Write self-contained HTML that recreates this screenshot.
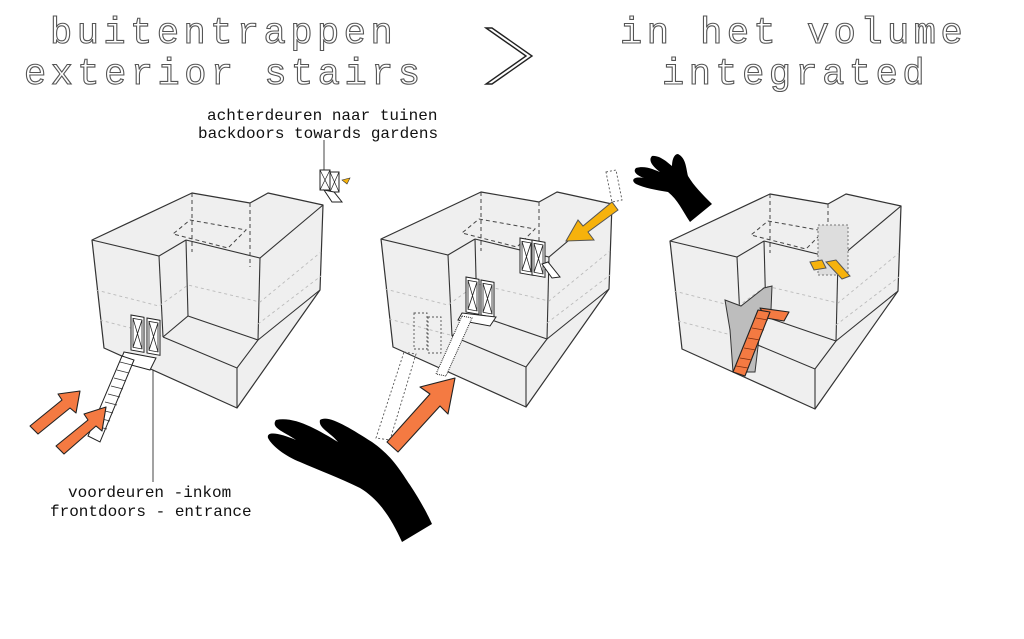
<!DOCTYPE html>
<html><head><meta charset="utf-8"><style>
html,body{margin:0;padding:0;background:#fff;}
svg{display:block;}
.t{font-family:"Liberation Mono",monospace;font-size:37px;fill:#fff;stroke:#555;stroke-width:1.1;letter-spacing:4.5px;}
.l{font-family:"Liberation Mono","DejaVu Sans Mono",monospace;font-size:16px;fill:#111;}
.bx{fill:#efefef;stroke:#333;stroke-width:1.2;stroke-linejoin:round}
.ln{fill:none;stroke:#333;stroke-width:1.1}
.dl{fill:none;stroke:#444;stroke-width:1;stroke-dasharray:4 3}
.gl{fill:none;stroke:#bbb;stroke-width:0.9;stroke-dasharray:3 3}
.or{fill:#f47a42;stroke:#222;stroke-width:1.1;stroke-linejoin:round}
.ye{fill:#f6b20c;stroke:#555;stroke-width:1}
</style></head><body>
<svg width="1024" height="639" viewBox="0 0 1024 639" xmlns="http://www.w3.org/2000/svg">
<defs>
<g id="box">
  <polygon class="bx" points="0,0 100,-47 158,-37 176,-47 231,-35 228,50 145,168 12,108"/>
  <polyline class="ln" points="0,0 67,16 94,0"/>
  <line class="ln" x1="67" y1="16" x2="71" y2="97"/>
  <line class="ln" x1="94" y1="0" x2="96" y2="76"/>
  <polyline class="ln" points="94,0 168,18 231,-35"/>
  <line class="ln" x1="168" y1="18" x2="166" y2="100"/>
  <polyline class="ln" points="71,97 96,76 166,100 145,128 71,97"/>
  <line class="ln" x1="145" y1="128" x2="145" y2="168"/>
  <line class="ln" x1="166" y1="100" x2="228" y2="50"/>
  <line class="dl" x1="100" y1="-47" x2="100" y2="12"/>
  <line class="dl" x1="158" y1="-37" x2="158" y2="27"/>
  <polygon class="dl" points="98,-20 154,-10 136,8 81,-6"/>
  <polyline class="gl" points="4,50 67,66 96,45 168,62 229,12"/>
  <polyline class="gl" points="8,80 69,96"/>
  <polyline class="gl" points="166,84 229,36"/>
</g>
<g id="door">
  <rect x="0" y="0" width="13" height="35" fill="#fff" stroke="#222" stroke-width="1"/>
  <rect x="2" y="3" width="9" height="29" fill="none" stroke="#222" stroke-width="0.8"/>
  <path d="M2,3 L11,32 M11,3 L2,32" stroke="#222" stroke-width="0.8"/>
</g>
</defs>

<text class="t" x="50" y="43">buitentrappen</text>
<text class="t" x="24" y="84">exterior stairs</text>
<text class="t" x="620" y="43">in het volume</text>
<text class="t" x="662" y="84">integrated</text>
<polygon points="486,28 526,56 486,84 492,84 532,56 492,28" fill="#fff" stroke="#222" stroke-width="1.4"/>

<text class="l" x="207" y="120">achterdeuren naar tuinen</text>
<text class="l" x="198" y="138">backdoors towards gardens</text>
<line x1="324" y1="140" x2="324" y2="172" stroke="#444" stroke-width="1"/>
<text class="l" x="68" y="497">voordeuren -inkom</text>
<text class="l" x="50" y="516">frontdoors - entrance</text>
<line x1="153" y1="370" x2="153" y2="482" stroke="#444" stroke-width="1"/>

<g transform="translate(92,240)"><use href="#box"/></g>
<use href="#door" transform="translate(131,315) skewY(10)"/>
<use href="#door" transform="translate(147,318) skewY(10)"/>
<polygon points="124,352 156,358 150,370 120,362" fill="#fff" stroke="#222"/>
<polygon points="122,356 134,360 100,442 88,436" fill="#fff" stroke="#222"/>
<path d="M120,362 L132,365 M117,370 L129,373 M114,378 L126,381 M111,386 L123,389 M108,394 L120,397 M105,402 L117,405 M101,410 L113,413 M98,418 L110,421 M95,426 L107,429" stroke="#333" stroke-width="0.8"/>
<g transform="translate(320,170)">
  <rect x="0" y="0" width="10" height="20" fill="#fff" stroke="#222"/><rect x="10" y="2" width="9" height="20" fill="#fff" stroke="#222"/>
  <path d="M0,0 L10,20 M10,0 L0,20 M10,2 L19,22 M19,2 L10,22" stroke="#222" stroke-width="0.7"/>
  <polygon points="4,20 14,22 22,32 12,32" fill="#fff" stroke="#222"/>
  <polygon points="22,10 30,8 27,14" fill="#f6b20c" stroke="#333" stroke-width="0.6"/>
</g>
<polygon class="or" points="30,426 62,400 58,394 80,391 76,413 70,408 38,434"/>
<polygon class="or" points="56,446 88,420 84,414 106,407 102,431 96,426 64,454"/>

<g transform="translate(381,239)"><use href="#box"/></g>
<use href="#door" transform="translate(466,277) skewY(10)"/>
<use href="#door" transform="translate(481,280) skewY(10)"/>
<polygon points="462,313 496,317 490,326 458,320" fill="#fff" stroke="#222"/>
<polygon points="462,316 472,318 446,376 436,374" fill="#fff" stroke="#222" stroke-dasharray="1 1"/>
<use href="#door" transform="translate(520,238) skewY(10)"/>
<use href="#door" transform="translate(532,240) skewY(10)"/>
<polygon points="542,264 548,262 560,277 552,278" fill="#fff" stroke="#222"/>
<g stroke="#555" stroke-dasharray="2 2" fill="none" stroke-width="0.9">
  <rect x="414" y="313" width="13" height="36"/><rect x="428" y="317" width="13" height="36"/>
  <polygon points="404,352 416,354 390,440 376,438"/>
  <polygon points="606,172 616,170 622,200 612,202"/>
</g>
<polygon class="or" points="387,442 430,394 420,387 455,378 448,414 440,406 398,452"/>
<polygon class="ye" points="618,210 588,232 594,240 566,241 578,220 583,226 612,202"/>

<g transform="translate(670,241)"><use href="#box"/></g>
<polygon points="725,300 741,306 764,288 772,286 771,310 760,330 755,372 733,372 730,330" fill="#bdbdbd" stroke="#333" stroke-width="1"/>
<rect x="818" y="225" width="30" height="50" fill="#ddd" stroke="#777" stroke-dasharray="2 2"/>
<polygon points="760,308 789,312 784,321 766,318" class="or"/>
<polygon points="758,310 770,312 745,376 733,372" class="or"/>
<path d="M756,318 L768,320 M752,328 L764,330 M748,338 L760,340 M744,348 L756,350 M740,358 L752,360 M736,366 L748,368" stroke="#7a2d0e" stroke-width="0.7"/>
<polygon class="ye" points="810,262 822,260 826,268 814,270"/>
<polygon class="ye" points="826,262 836,260 850,276 842,279"/>

<path d="M276,420 C295,416 318,430 338,442 C330,432 318,428 320,420 C328,414 350,428 372,442 C392,456 400,470 410,485 C420,500 428,515 432,524 L402,542 C392,520 380,500 360,488 C340,478 318,470 300,462 C285,456 272,446 268,438 C266,430 282,434 296,440 C285,432 270,428 276,420 Z" fill="#000"/>
<path d="M636,168 C645,165 655,170 660,172 C652,166 648,160 652,156 C660,155 668,163 672,166 C672,160 674,154 678,154 C686,158 686,168 688,176 C694,186 702,194 712,204 L690,222 C682,210 678,200 668,192 C656,190 644,188 636,184 C630,180 634,176 644,178 C638,176 632,172 636,168 Z" fill="#000"/>
</svg>
</body></html>
